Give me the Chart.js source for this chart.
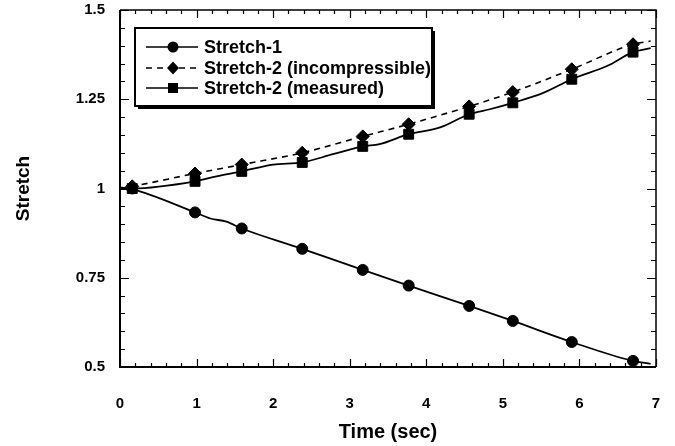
<!DOCTYPE html>
<html>
<head>
<meta charset="utf-8">
<script src="https://cdn.jsdelivr.net/npm/chart.js@4.4.1/dist/chart.umd.min.js"></script>
<style>
  html, body { margin: 0; padding: 0; background: #ffffff; }
  #wrap { width: 675px; height: 446px; }
</style>
</head>
<body>
<div id="wrap"><canvas id="c" width="675" height="446"></canvas></div>
<script>
// ---- Data ----
const markerTimes = [0.16, 0.98, 1.59, 2.38, 3.17, 3.77, 4.56, 5.13, 5.90, 6.70];
const stretch1Markers = [1.0, 0.933, 0.888, 0.831, 0.772, 0.728, 0.671, 0.629, 0.570, 0.517];
const stretch2IncMarkers = [1.006, 1.042, 1.067, 1.100, 1.146, 1.180, 1.230, 1.270, 1.334, 1.404];
const stretch2MeasMarkers = [1.0, 1.020, 1.048, 1.073, 1.118, 1.152, 1.208, 1.240, 1.306, 1.382];

const stretch1LineTimes = [0, 0.16, 0.98, 1.18, 1.39, 1.59, 2.38, 3.17, 3.77, 4.56, 5.13, 5.90, 6.70, 6.93];
const stretch1LineValues = [1.003, 0.998, 0.933, 0.916, 0.907, 0.888, 0.831, 0.772, 0.728, 0.671, 0.629, 0.570, 0.517, 0.509];

const stretch2IncLineTimes = [0, 0.16, 0.98, 1.59, 2.38, 3.17, 3.77, 4.56, 5.13, 5.90, 6.70, 6.93];
const stretch2IncLineValues = [1.0, 1.006, 1.042, 1.067, 1.100, 1.146, 1.180, 1.230, 1.270, 1.334, 1.404, 1.413];

const stretch2MeasLineTimes = [0, 0.16, 0.98, 1.26, 1.59, 2.0, 2.38, 2.78, 3.17, 3.39, 3.77, 4.18, 4.56, 4.83, 5.13, 5.52, 5.90, 6.36, 6.70, 6.93];
const stretch2MeasLineValues = [1.0, 1.0, 1.020, 1.034, 1.048, 1.067, 1.073, 1.096, 1.118, 1.124, 1.152, 1.171, 1.208, 1.222, 1.240, 1.267, 1.306, 1.343, 1.382, 1.393];

const xTickValues = [0, 1, 2, 3, 4, 5, 6, 7];
const yTickValues = [0.5, 0.75, 1, 1.25, 1.5];
const yTickLabels = ['0.5', '0.75', '1', '1.25', '1.5'];

const seriesNames = ['Stretch-1', 'Stretch-2 (incompressible)', 'Stretch-2 (measured)'];
const xTitle = 'Time (sec)';
const yTitle = 'Stretch';

// ---- helpers ----
const pts = (xs, ys) => xs.map((x, i) => ({ x: x, y: ys[i] }));
const FONT = "'Liberation Sans', Arial, Helvetica, sans-serif";
Chart.defaults.font.family = FONT;
Chart.defaults.color = '#000';

// Frame with inward ticks on all four sides
const frameTicks = {
  id: 'frameTicks',
  afterDatasetsDraw(chart) {
    const { ctx, chartArea: a, scales } = chart;
    const xs = scales.x, ys = scales.y;
    ctx.save();
    ctx.strokeStyle = '#000';
    ctx.lineWidth = 1.2;
    ctx.beginPath();
    for (let i = 0; i <= 35; i++) {
      const v = i / 5;
      const px = Math.round(xs.getPixelForValue(v)) + 0.5;
      const len = (i % 5 === 0) ? 8 : 4;
      ctx.moveTo(px, a.bottom); ctx.lineTo(px, a.bottom - len);
      ctx.moveTo(px, a.top); ctx.lineTo(px, a.top + len);
    }
    for (let i = 0; i <= 20; i++) {
      const v = 0.5 + i * 0.05;
      const py = Math.round(ys.getPixelForValue(v)) + 0.5;
      const len = (i % 5 === 0) ? 9 : 5;
      ctx.moveTo(a.left, py); ctx.lineTo(a.left + len, py);
      ctx.moveTo(a.right, py); ctx.lineTo(a.right - len, py);
    }
    ctx.stroke();
    ctx.lineWidth = 1.5;
    ctx.beginPath();
    ctx.moveTo(a.left, a.top); ctx.lineTo(a.right, a.top); ctx.lineTo(a.right, a.bottom);
    ctx.stroke();
    ctx.lineWidth = 2;
    ctx.beginPath();
    ctx.moveTo(a.left, a.top); ctx.lineTo(a.left, a.bottom); ctx.lineTo(a.right, a.bottom);
    ctx.stroke();
    ctx.restore();
  }
};

// Boxed legend with line + marker samples
const boxLegend = {
  id: 'boxLegend',
  afterDraw(chart) {
    const ctx = chart.ctx;
    const bx = 135, by = 28, bw = 297, bh = 78;
    ctx.save();
    ctx.fillStyle = '#000';
    ctx.fillRect(bx + 3, by + 3, bw, bh);
    ctx.fillStyle = '#fff';
    ctx.fillRect(bx, by, bw, bh);
    const rows = [47, 68, 88];
    const styles = [
      { dash: [], marker: 'circle' },
      { dash: [6, 5], marker: 'diamond' },
      { dash: [], marker: 'square' }
    ];
    ctx.font = 'bold 18px ' + FONT;
    ctx.textBaseline = 'middle';
    ctx.textAlign = 'left';
    rows.forEach((ry, i) => {
      ctx.strokeStyle = '#000';
      ctx.lineWidth = 1.6;
      ctx.setLineDash(styles[i].dash);
      ctx.beginPath();
      ctx.moveTo(146, ry); ctx.lineTo(198, ry);
      ctx.stroke();
      ctx.setLineDash([]);
      ctx.fillStyle = '#000';
      ctx.beginPath();
      const mx = 173;
      if (styles[i].marker === 'circle') {
        ctx.arc(mx, ry, 5.5, 0, Math.PI * 2);
      } else if (styles[i].marker === 'diamond') {
        ctx.moveTo(mx, ry - 6.5); ctx.lineTo(mx + 6, ry); ctx.lineTo(mx, ry + 6.5); ctx.lineTo(mx - 6, ry); ctx.closePath();
      } else {
        ctx.rect(mx - 5, ry - 5, 10, 10);
      }
      ctx.fill();
      ctx.fillText(seriesNames[i], 204, ry + 1);
    });
    ctx.strokeStyle = '#000';
    ctx.lineWidth = 2;
    ctx.strokeRect(bx, by, bw, bh);
    ctx.restore();
  }
};

const lineBase = { borderColor: '#000', backgroundColor: '#000', pointRadius: 0, fill: false, borderWidth: 1.8, cubicInterpolationMode: 'monotone' };
const markBase = { borderColor: '#000', backgroundColor: '#000', showLine: false, borderWidth: 1 };

new Chart(document.getElementById('c'), {
  type: 'scatter',
  data: {
    datasets: [
      Object.assign({}, lineBase, { label: seriesNames[0] + ' line', data: pts(stretch1LineTimes, stretch1LineValues), showLine: true }),
      Object.assign({}, lineBase, { label: seriesNames[1] + ' line', data: pts(stretch2IncLineTimes, stretch2IncLineValues), showLine: true, borderDash: [6, 5], borderWidth: 1.6 }),
      Object.assign({}, lineBase, { label: seriesNames[2] + ' line', data: pts(stretch2MeasLineTimes, stretch2MeasLineValues), showLine: true }),
      Object.assign({}, markBase, { label: seriesNames[1], data: pts(markerTimes, stretch2IncMarkers), pointStyle: 'rectRot', pointRadius: 6.5 }),
      Object.assign({}, markBase, { label: seriesNames[2], data: pts(markerTimes, stretch2MeasMarkers), pointStyle: 'rect', pointRadius: 7 }),
      Object.assign({}, markBase, { label: seriesNames[0], data: pts(markerTimes, stretch1Markers), pointStyle: 'circle', pointRadius: 5.5 })
    ]
  },
  options: {
    responsive: false,
    maintainAspectRatio: false,
    animation: false,
    devicePixelRatio: 1,
    layout: { padding: { top: 10, right: 19, bottom: 0, left: 0 } },
    plugins: { legend: { display: false }, tooltip: { enabled: false } },
    scales: {
      x: {
        type: 'linear', min: 0, max: 7,
        afterBuildTicks(scale) { scale.ticks = xTickValues.map(v => ({ value: v })); },
        afterFit(scale) { scale.height = 79; scale.paddingLeft = 0; scale.paddingRight = 0; },
        grid: { display: false, drawTicks: false },
        border: { display: false },
        ticks: { font: { size: 15, weight: 'bold' }, color: '#000', padding: 28, maxRotation: 0, callback: v => String(v) },
        title: { display: true, text: xTitle, font: { size: 20, weight: 'bold' }, color: '#000', padding: { top: 0, bottom: 2 } }
      },
      y: {
        type: 'linear', min: 0.5, max: 1.5,
        afterBuildTicks(scale) { scale.ticks = yTickValues.map(v => ({ value: v })); },
        afterFit(scale) { scale.width = 120; scale.paddingTop = 0; scale.paddingBottom = 0; },
        grid: { display: false, drawTicks: false },
        border: { display: false },
        ticks: { font: { size: 15, weight: 'bold' }, color: '#000', padding: 15, callback: (v) => yTickLabels[yTickValues.indexOf(v)] },
        title: { display: true, text: yTitle, font: { size: 19, weight: 'bold' }, color: '#000', padding: { top: 12, bottom: 0 } }
      }
    }
  },
  plugins: [frameTicks, boxLegend]
});
</script>
</body>
</html>
